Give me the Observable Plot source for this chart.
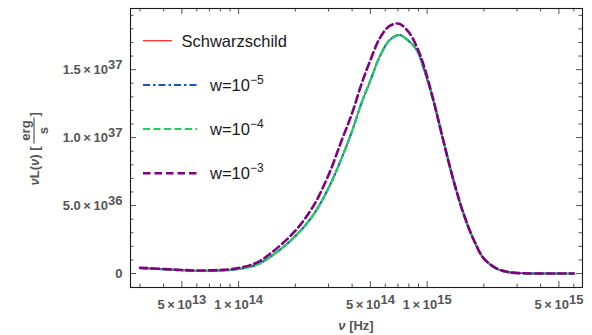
<!DOCTYPE html>
<html><head><meta charset="utf-8">
<script src="https://cdn.jsdelivr.net/npm/d3@7"></script>
<script src="https://cdn.jsdelivr.net/npm/@observablehq/plot@0.6"></script>
<style>body{margin:0;background:#fff} svg{display:block}</style>
</head><body><div id="chart"></div>
<script>
// frequency grid (Hz)
const nu = [3e13, 4e13, 5e13, 6e13, 8e13, 1e14, 1.25e14, 1.5e14, 2e14, 2.5e14, 3e14, 3.5e14, 4e14, 4.5e14, 5e14, 5.6e14, 6.3e14, 7.1e14, 8e14, 8.8e14, 9.6e14, 1.08e15, 1.22e15, 1.38e15, 1.56e15, 1.77e15, 2e15, 2.35e15, 2.7e15, 3.2e15, 4e15, 5e15, 6e15];
// nu L(nu) in erg/s
const lSchw = [0.40e36, 0.31e36, 0.24e36, 0.20e36, 0.22e36, 0.33e36, 0.65e36, 1.30e36, 2.75e36, 4.35e36, 6.3e36, 8.4e36, 10.5e36, 12.6e36, 14.2e36, 15.95e36, 17.15e36, 17.55e36, 17.1e36, 16.45e36, 15.05e36, 12.7e36, 9.75e36, 6.85e36, 4.4e36, 2.45e36, 1.1e36, 0.35e36, 0.1e36, 0.02e36, 0, 0, 0];
const lW5 = [0.40e36, 0.31e36, 0.24e36, 0.20e36, 0.22e36, 0.33e36, 0.65e36, 1.30e36, 2.75e36, 4.35e36, 6.3e36, 8.4e36, 10.5e36, 12.6e36, 14.2e36, 15.95e36, 17.15e36, 17.55e36, 17.1e36, 16.45e36, 15.05e36, 12.7e36, 9.75e36, 6.85e36, 4.4e36, 2.45e36, 1.1e36, 0.35e36, 0.1e36, 0.02e36, 0, 0, 0];
const lW4 = [0.40e36, 0.31e36, 0.24e36, 0.20e36, 0.22e36, 0.33e36, 0.65e36, 1.30e36, 2.75e36, 4.35e36, 6.3e36, 8.4e36, 10.5e36, 12.6e36, 14.2e36, 15.95e36, 17.15e36, 17.55e36, 17.1e36, 16.45e36, 15.05e36, 12.7e36, 9.75e36, 6.85e36, 4.4e36, 2.45e36, 1.1e36, 0.35e36, 0.1e36, 0.02e36, 0, 0, 0];
const lW3 = [0.42e36, 0.33e36, 0.26e36, 0.22e36, 0.26e36, 0.40e36, 0.80e36, 1.55e36, 3.15e36, 5.0e36, 7.25e36, 9.7e36, 11.8e36, 14.0e36, 15.7e36, 17.3e36, 18.2e36, 18.38e36, 17.75e36, 16.7e36, 15.3e36, 12.75e36, 9.75e36, 6.85e36, 4.4e36, 2.45e36, 1.1e36, 0.35e36, 0.1e36, 0.02e36, 0, 0, 0];

const seriesNames = ["Schwarzschild", "w=10^\u22125", "w=10^\u22124", "w=10^\u22123"];
const seriesValues = [lSchw, lW5, lW4, lW3];
const seriesColors = ["#ff2a2a", "#1a4fd6", "#1fd15a", "#800080"];
const seriesWidths = [1.3, 2.2, 2.2, 2.6];
const seriesDash = [null, "7,3,2.5,3", "7,3.5", "7.5,4"];

const yTicks = [0, 5e36, 1e37, 1.5e37];
const yTickLabels = ["0", "5.0\u2009\u00d7\u200910^36", "1.0\u2009\u00d7\u200910^37", "1.5\u2009\u00d7\u200910^37"];
const yMinor = [1e36, 2e36, 3e36, 4e36, 6e36, 7e36, 8e36, 9e36, 11e36, 12e36, 13e36, 14e36, 16e36, 17e36, 18e36, 19e36];
const xTicks = [5e13, 1e14, 5e14, 1e15, 5e15];
const xTickLabels = ["5\u2009\u00d7\u200910^13", "1\u2009\u00d7\u200910^14", "5\u2009\u00d7\u200910^14", "1\u2009\u00d7\u200910^15", "5\u2009\u00d7\u200910^15"];
const xMinor = [3e13, 4e13, 6e13, 7e13, 8e13, 9e13, 2e14, 3e14, 4e14, 6e14, 7e14, 8e14, 9e14, 2e15, 3e15, 4e15, 6e15];

const W = 592, H = 335, mL = 130, mR = 10, mT = 8, mB = 48;
const fw = W - mL - mR, fh = H - mT - mB;

const lineMarks = seriesValues.map((vals, s) => Plot.line(nu.map((v, i) => ({nu: v, L: vals[i]})), {
  x: "nu", y: "L", stroke: seriesColors[s], strokeWidth: seriesWidths[s],
  strokeDasharray: seriesDash[s], curve: "catmull-rom"
}));

const tickColor = "#555";
const labelStyle = {fontSize: 13, fontWeight: "bold", fill: "#555"};
const chart = Plot.plot({
  width: W, height: H,
  marginLeft: mL, marginRight: mR, marginTop: mT, marginBottom: mB,
  style: {background: "#fff", fontFamily: "'Liberation Sans', Arial, sans-serif"},
  x: {type: "log", domain: [2.67e13, 6.67e15], axis: null},
  y: {domain: [-1.03e36, 1.95e37], axis: null},
  marks: [
    Plot.tickY(yTicks, {y: d => d, insetRight: fw - 6, stroke: tickColor}),
    Plot.tickY(yMinor, {y: d => d, insetRight: fw - 3.5, stroke: tickColor}),
    Plot.tickY(yTicks, {y: d => d, insetLeft: fw - 6, stroke: tickColor}),
    Plot.tickY(yMinor, {y: d => d, insetLeft: fw - 3.5, stroke: tickColor}),
    Plot.tickX(xTicks, {x: d => d, insetTop: fh - 6, stroke: tickColor}),
    Plot.tickX(xMinor, {x: d => d, insetTop: fh - 3.5, stroke: tickColor}),
    Plot.tickX(xTicks, {x: d => d, insetBottom: fh - 6, stroke: tickColor}),
    Plot.tickX(xMinor, {x: d => d, insetBottom: fh - 3.5, stroke: tickColor}),
    Plot.text(yTicks, {y: d => d, frameAnchor: "left", textAnchor: "end", dx: -8, text: (d, i) => yTickLabels[i], ...labelStyle}),
    Plot.text(xTicks, {x: d => d, frameAnchor: "bottom", lineAnchor: "top", dy: 12, text: (d, i) => xTickLabels[i], ...labelStyle}),
    ...lineMarks,
    Plot.frame({stroke: "#1a1a1a", strokeWidth: 1.1})
  ]
});
document.getElementById("chart").appendChild(chart);

const svg = d3.select(chart.tagName.toLowerCase() === "svg" ? chart : chart.querySelector("svg"));

// superscripts in tick labels
svg.selectAll("text").each(function () {
  const t = d3.select(this);
  const s = t.text();
  if (!s.includes("^")) return;
  const [b, e] = s.split("^");
  t.text(null);
  t.append("tspan").text(b);
  t.append("tspan").attr("dy", -5).text(e);
});

const font = "'Liberation Sans', Arial, sans-serif";

// y axis label
const yl = svg.append("g")
  .attr("transform", `translate(38.5,${mT + fh / 2}) rotate(-90)`)
  .attr("font-family", font).attr("font-weight", "bold").attr("font-size", 13).attr("fill", "#555");
const t1 = yl.append("text").attr("x", 1).attr("y", 0).attr("text-anchor", "end");
t1.append("tspan").attr("font-style", "italic").text("\u03bd");
t1.append("tspan").text("L(");
t1.append("tspan").attr("font-style", "italic").text("\u03bd");
t1.append("tspan").text(") [");
yl.append("line").attr("x1", 4).attr("x2", 30).attr("y1", -4.5).attr("y2", -4.5).attr("stroke", "#555").attr("stroke-width", 1.2);
yl.append("text").attr("x", 17).attr("y", -9).attr("text-anchor", "middle").text("erg");
yl.append("text").attr("x", 17).attr("y", 9).attr("text-anchor", "middle").text("s");
yl.append("text").attr("x", 31).attr("y", 0).attr("text-anchor", "start").text("]");

// x axis label
const xl = svg.append("text").attr("x", mL + fw / 2).attr("y", 330).attr("text-anchor", "middle")
  .attr("font-family", font).attr("font-weight", "bold").attr("font-size", 13).attr("fill", "#555");
xl.append("tspan").attr("font-style", "italic").text("\u03bd");
xl.append("tspan").text(" [Hz]");

// legend
const legY = [40.7, 85, 129, 173.3];
const legX2 = [172, 197, 197, 197];
const legTextX = [181.5, 210, 210, 210];
const lg = svg.append("g").attr("font-family", font).attr("font-size", 16.5).attr("fill", "#1a1a1a").attr("text-anchor", "start");
seriesNames.forEach((name, i) => {
  lg.append("line").attr("x1", 143).attr("x2", legX2[i]).attr("y1", legY[i]).attr("y2", legY[i])
    .attr("stroke", seriesColors[i]).attr("stroke-width", seriesWidths[i])
    .attr("stroke-dasharray", seriesDash[i]);
  const tx = lg.append("text").attr("x", legTextX[i]).attr("y", legY[i] + 6).attr("text-anchor", "start");
  if (name.includes("^")) {
    const [b, e] = name.split("^");
    tx.append("tspan").text(b);
    tx.append("tspan").attr("dy", -7).attr("font-size", 12).text(e);
  } else tx.text(name);
});
</script></body></html>
